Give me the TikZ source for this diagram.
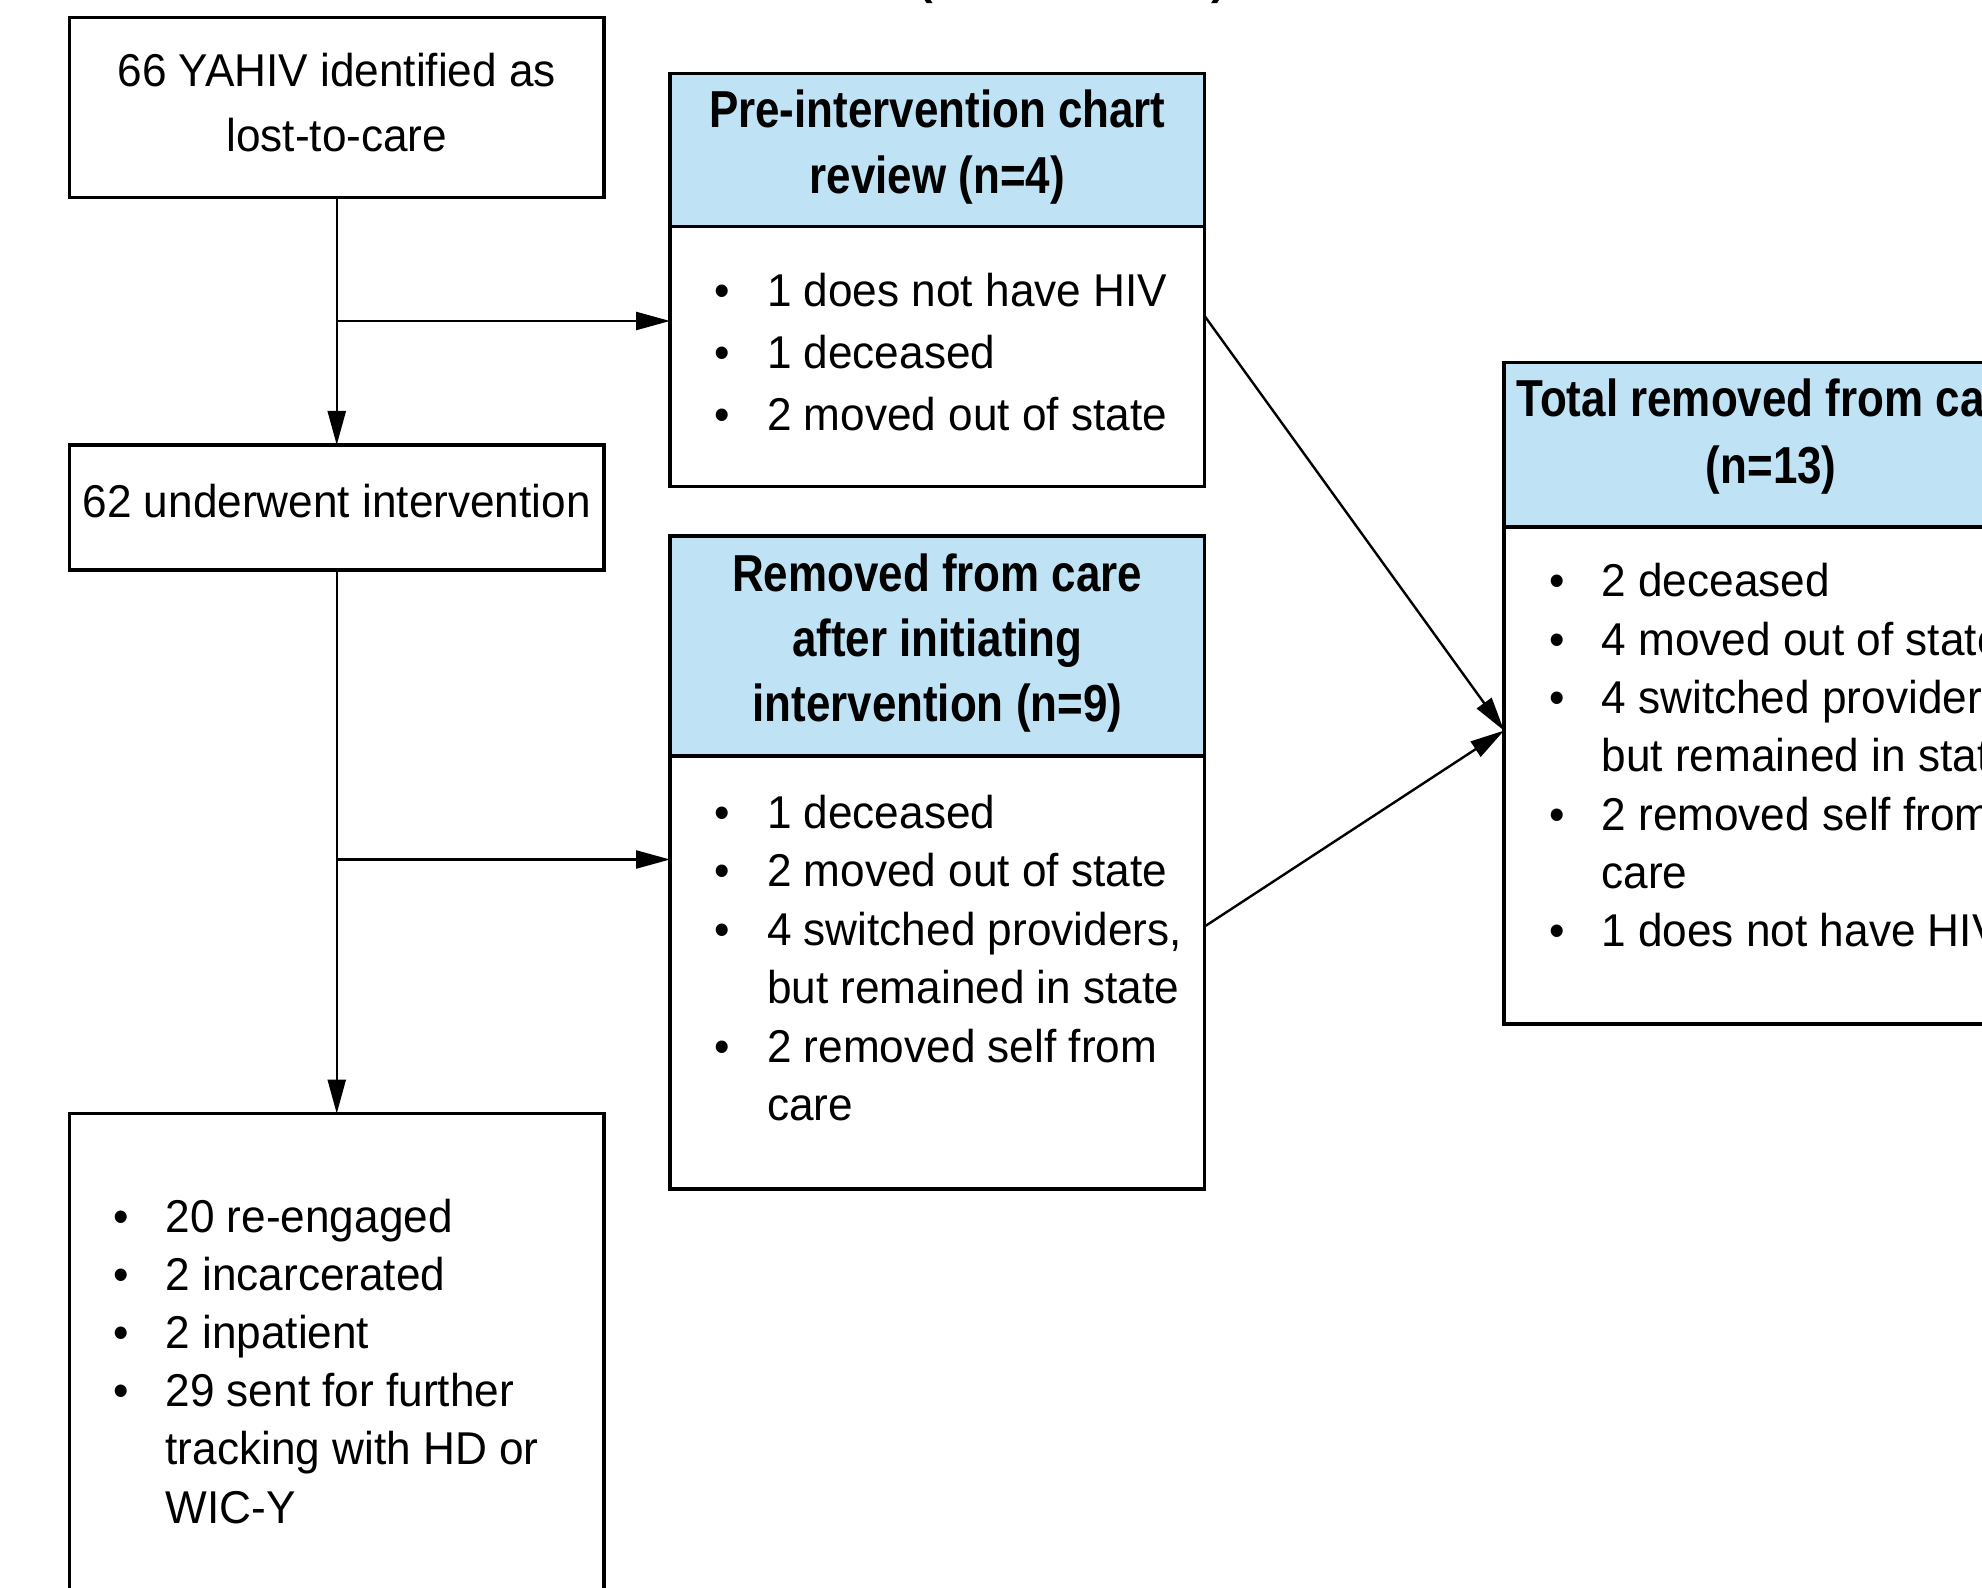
\documentclass[tikz,border=0pt]{standalone}
\usepackage{fontspec}
\setmainfont{Liberation Sans}
\newfontfamily\regfont[FakeStretch=0.96]{Liberation Sans}
\newfontfamily\hdrfont[FakeStretch=0.845]{Liberation Sans}
\usetikzlibrary{arrows.meta,calc}
\definecolor{hdrblue}{RGB}{191,227,245}
\newcommand\mylist[2]{\begin{tabular}[t]{@{}p{#1}@{}l@{}}#2\end{tabular}}
\newcommand\mycenter[1]{\begin{tabular}[t]{@{}c@{}}#1\end{tabular}}
\begin{document}
\begin{tikzpicture}[x=0.5pt,y=-0.5pt,
  box/.style={draw=black, line width=1.6pt, inner sep=0pt, outer sep=0pt, minimum width=267.3pt},
  hdr/.style={box, fill=hdrblue},
  conn/.style={line width=1.2pt, -{Triangle[length=17pt,width=9pt]}},
  txt/.style={inner sep=0pt, outer sep=0pt, anchor=base},
  ltxt/.style={inner sep=0pt, outer sep=0pt, anchor=base west},
]
\useasboundingbox (0,0) rectangle (1982,1588);
\clip (0,0) rectangle (1982,1588);
\fill[white] (0,0) rectangle (1982,1588);

% title fragment (cut off at top)
\node[ltxt, font=\fontsize{22}{22}\selectfont\bfseries] (title) at (918,-5) {(\hspace{139.5pt})};

% left column boxes
\node[box, minimum height=89.75pt] (A) at (336.75,107.45) {};
\node[box, minimum height=62.5pt] (B) at (336.75,507.5) {};
\node[box, minimum height=293.2pt] (C) at (336.75,1406.8) {};

% middle column boxes
\node[hdr, minimum height=76.5pt] (Ph) at (937.3,149.8) {};
\node[box, minimum height=130.15pt] (Pb) at (937.3,356.45) {};
\node[hdr, minimum height=110pt] (Rh) at (937.3,646) {};
\node[box, minimum height=216.5pt] (Rb) at (937.3,972.5) {};

% right box
\node[hdr, minimum height=82.1pt] (Th) at (1771.3,444.9) {};
\node[box, minimum height=248.5pt] (Tb) at (1771.3,775.5) {};

% texts
\node[txt, font=\regfont\fontsize{23}{32.75}\selectfont] (At) at (336.75,86.5) {\mycenter{66 YAHIV identified as\\lost-to-care}};
\node[txt, font=\regfont\fontsize{23}{29}\selectfont] (Bt) at (336.75,518) {62 underwent intervention};
\node[txt, font=\hdrfont\bfseries\fontsize{26}{32.85}\selectfont] (Pht) at (937.3,128) {\mycenter{Pre-intervention chart\\review (n=4)}};
\node[txt, font=\hdrfont\bfseries\fontsize{26}{32.5}\selectfont] (Rht) at (937.3,592) {\mycenter{Removed from care\\after initiating\\intervention (n=9)}};
\node[txt, font=\hdrfont\bfseries\fontsize{26}{33.5}\selectfont] (Tht) at (1771.3,417) {\mycenter{Total removed from care\\(n=13)}};

\node[ltxt, font=\regfont\fontsize{23}{31}\selectfont] (Pl) at (714,307) {\mylist{26.5pt}{%
\textbullet & 1 does not have HIV\\
\textbullet & 1 deceased\\
\textbullet & 2 moved out of state}};

\node[ltxt, font=\regfont\fontsize{23}{29.2}\selectfont] (Rl) at (714,828.5) {\mylist{26.5pt}{%
\textbullet & 1 deceased\\
\textbullet & 2 moved out of state\\
\textbullet & 4 switched providers,\\
 & but remained in state\\
\textbullet & 2 removed self from\\
 & care}};

\node[ltxt, font=\regfont\fontsize{23}{29.15}\selectfont] (Tl) at (1549.5,597) {\mylist{26pt}{%
\textbullet & 2 deceased\\
\textbullet & 4 moved out of state\\
\textbullet & 4 switched providers,\\
 & but remained in state\\
\textbullet & 2 removed self from\\
 & care\\
\textbullet & 1 does not have HIV}};

\node[ltxt, font=\regfont\fontsize{23}{29.1}\selectfont] (Cl) at (113.5,1232) {\mylist{26pt}{%
\textbullet & 20 re-engaged\\
\textbullet & 2 incarcerated\\
\textbullet & 2 inpatient\\
\textbullet & 29 sent for further\\
 & tracking with HD or\\
 & WIC-Y}};

% connectors
\coordinate (j1) at (336.75,321);
\coordinate (j2) at (336.75,859.5);
\draw[conn] (A) -- (B);
\draw[conn] (j1) -- (j1 -| Pb.west);
\draw[conn] (B) -- (C);
\draw[conn] (j2) -- (j2 -| Rb.west);
\draw[conn] (Pb.east |- 0,316) -- (Tb.west |- 0,730.6);
\draw[conn] (Rb.east |- 0,926.5) -- (Tb.west |- 0,730.6);
\end{tikzpicture}
\end{document}
